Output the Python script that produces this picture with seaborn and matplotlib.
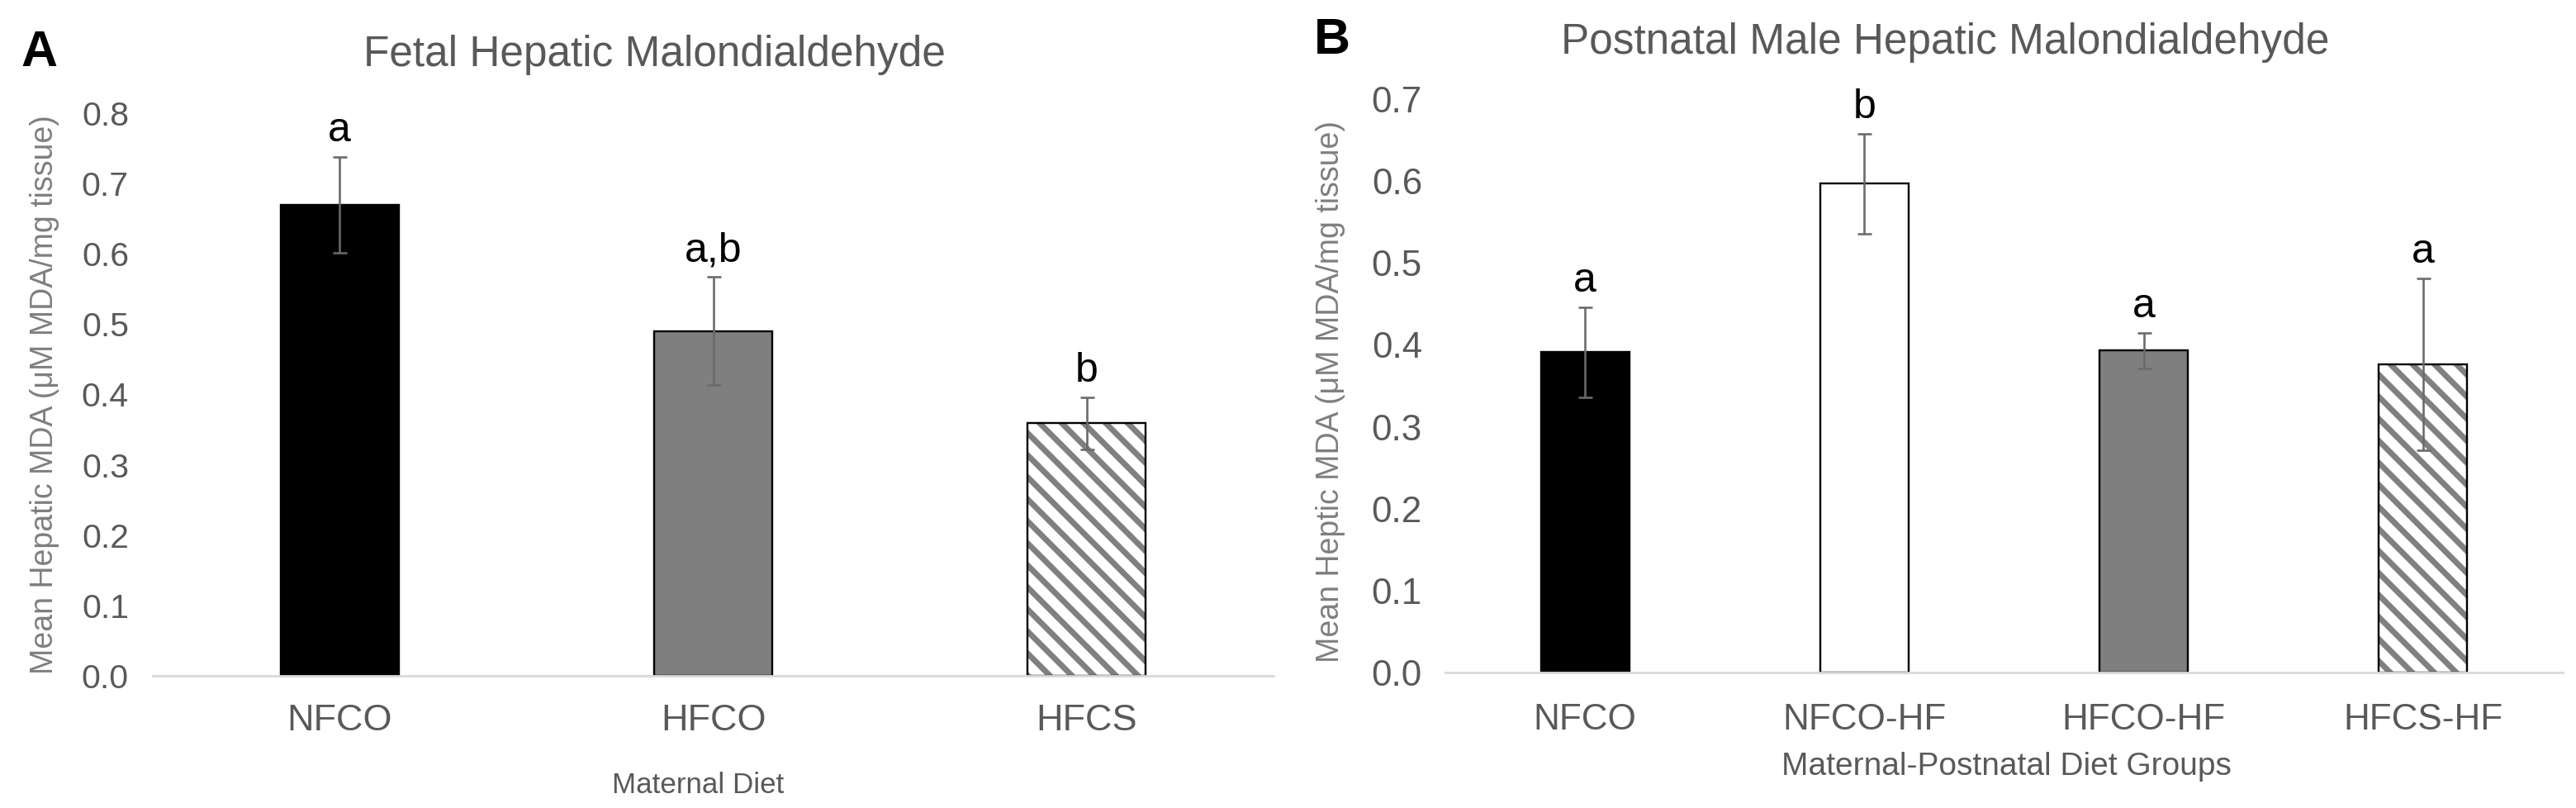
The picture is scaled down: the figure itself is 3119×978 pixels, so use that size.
import matplotlib
matplotlib.use("Agg")
import matplotlib.pyplot as plt
import matplotlib.colors as mcolors
import seaborn as sns
import pandas as pd

# ---------------- data ----------------
a_groups = ["NFCO", "HFCO", "HFCS"]
a_means = [0.670, 0.490, 0.359]
a_sem = [0.068, 0.077, 0.037]
a_letters = ["a", "a,b", "b"]

b_groups = ["NFCO", "NFCO-HF", "HFCO-HF", "HFCS-HF"]
b_means = [0.391, 0.597, 0.393, 0.376]
b_sem = [0.055, 0.061, 0.022, 0.105]
b_letters = ["a", "b", "a", "a"]

a_fill = ["#000000", "#7f7f7f", "#ffffff"]
a_hatched = [False, False, True]
b_fill = ["#000000", "#ffffff", "#7f7f7f", "#ffffff"]
b_hatched = [False, False, False, True]

# ---------------- style ----------------
DPI = 160
W, H = 3119, 978


def pt(px):
    return px * 72.0 / DPI


sns.set_theme(style="white")
plt.rcParams["font.family"] = ["Liberation Sans", "DejaVu Sans"]
plt.rcParams["hatch.linewidth"] = pt(7)

fig = plt.figure(figsize=(W / DPI, H / DPI), dpi=DPI)
fig.patch.set_facecolor("white")

TXT = "#595959"
YLAB = "#7f7f7f"
HATCH = "#808080"


def panel(rect, groups, means, sem, letters, fills, hatched, ymax, ytick_px,
          xtick_px, xpad_px, ypad_px):
    ax = fig.add_axes(rect)
    df = pd.DataFrame({"group": groups, "value": means})
    sns.barplot(data=df, x="group", y="value", hue="group", palette=fills,
                legend=False, width=0.316, errorbar=None, ax=ax,
                saturation=1.0)
    for p, h in zip(ax.patches, hatched):
        p.set_linewidth(pt(2.4))
        p.set_edgecolor("#000000")
        if h:
            p.set_hatch("\\\\")
            p._hatch_color = mcolors.to_rgba(HATCH)
            p.stale = True
    xs = list(range(len(groups)))
    ax.errorbar(xs, means, yerr=sem, fmt="none", ecolor="#6a6a6a",
                elinewidth=pt(2.6), capsize=pt(8.5), capthick=pt(2.6), zorder=5)
    for x, m, e, t in zip(xs, means, sem, letters):
        ax.annotate(t, xy=(x, m + e), xytext=(0, pt(9)), textcoords="offset points",
                    ha="center", va="bottom", fontsize=pt(50), color="black")
    ax.set_xlim(-0.5, len(groups) - 0.5)
    ax.set_ylim(0, ymax)
    n_t = int(round(ymax * 10)) + 1
    ax.set_yticks([i / 10 for i in range(n_t)])
    ax.set_yticklabels([f"{i / 10:.1f}" for i in range(n_t)])
    ax.set_xlabel("")
    ax.set_ylabel("")
    for s in ["top", "right", "left"]:
        ax.spines[s].set_visible(False)
    ax.spines["bottom"].set_color("#d9d9d9")
    ax.spines["bottom"].set_linewidth(pt(2.8))
    ax.tick_params(axis="y", length=0, pad=pt(ypad_px), labelsize=pt(ytick_px),
                   labelcolor=TXT)
    ax.tick_params(axis="x", length=0, pad=pt(xpad_px), labelsize=pt(xtick_px),
                   labelcolor=TXT)
    ax.grid(False)
    ax.set_facecolor("white")
    return ax


axA = panel([185 / W, 1 - 818 / H, 1357 / W, (818 - 137) / H],
            a_groups, a_means, a_sem, a_letters, a_fill, a_hatched, 0.8,
            41, 45, 34, 29)
axB = panel([1750 / W, 1 - 814 / H, 1353 / W, (814 - 120) / H],
            b_groups, b_means, b_sem, b_letters, b_fill, b_hatched, 0.7,
            44, 44, 37, 28)

# titles
fig.text(792 / W, 1 - 80 / H, "Fetal Hepatic Malondialdehyde", ha="center",
         va="baseline", fontsize=pt(51.4), color=TXT)
fig.text(2355 / W, 1 - 65 / H, "Postnatal Male Hepatic Malondialdehyde",
         ha="center", va="baseline", fontsize=pt(51.4), color=TXT)

# panel letters
fig.text(25 / W, 1 - 80 / H, "A", ha="left", va="baseline", fontsize=pt(61),
         fontweight="bold", color="black")
fig.text(1591 / W, 1 - 65 / H, "B", ha="left", va="baseline", fontsize=pt(61),
         fontweight="bold", color="black")

# axis labels
fig.text(54 / W, 1 - 478 / H, "Mean Hepatic MDA (\u03bcM MDA/mg tissue)",
         rotation=90, ha="center", va="center", fontsize=pt(37.5), color=YLAB)
fig.text(1611 / W, 1 - 474 / H, "Mean Heptic MDA (\u03bcM MDA/mg tissue)",
         rotation=90, ha="center", va="center", fontsize=pt(37.5), color=YLAB)
fig.text(845 / W, 1 - 950 / H, "Maternal Diet", ha="center", va="center",
         fontsize=pt(35), color=TXT)
fig.text(2429 / W, 1 - 928 / H, "Maternal-Postnatal Diet Groups", ha="center",
         va="center", fontsize=pt(38.9), color=TXT)

fig.savefig("out.png", dpi=DPI, facecolor="white")
